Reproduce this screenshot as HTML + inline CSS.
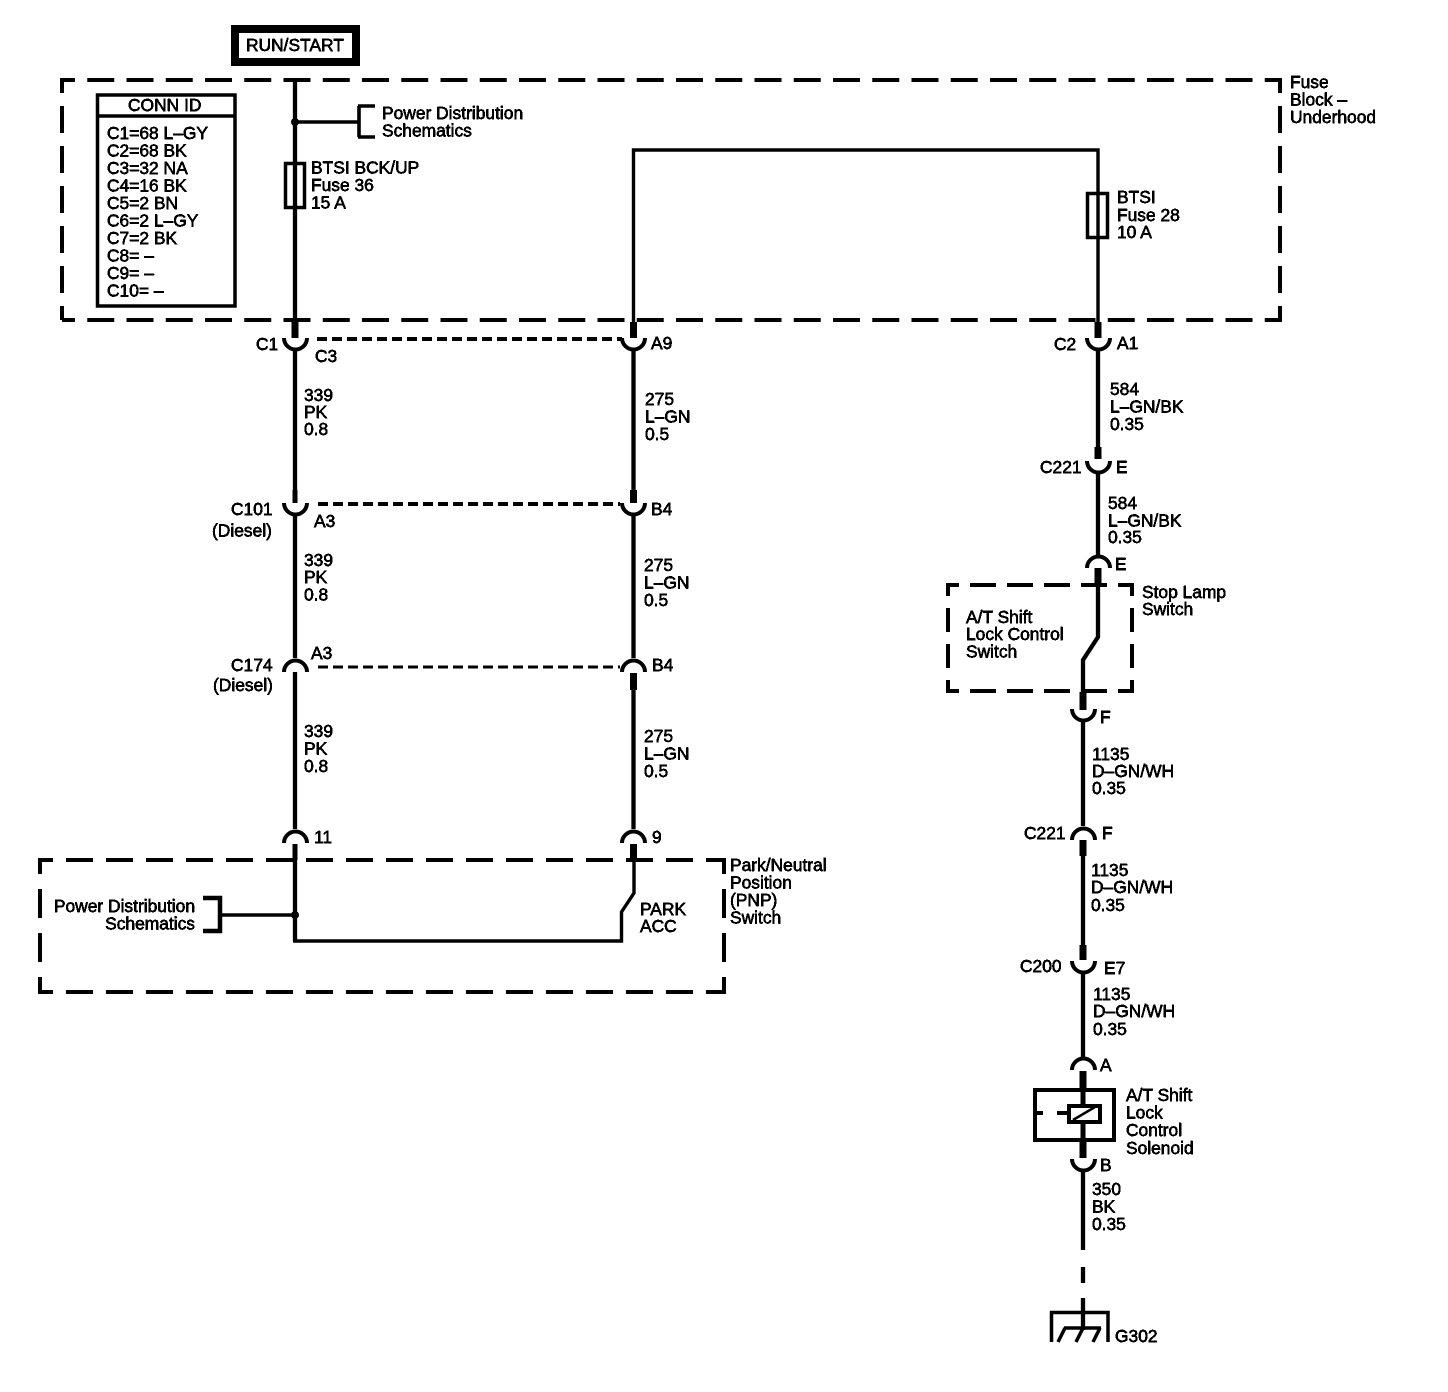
<!DOCTYPE html>
<html>
<head>
<meta charset="utf-8">
<style>
html,body{margin:0;padding:0;background:#fff}
svg{display:block}
text{font-family:"Liberation Sans",sans-serif;font-size:17.4px;fill:#000;stroke:#000;stroke-width:.45}
</style>
</head>
<body>
<svg width="1448" height="1392" viewBox="0 0 1448 1392" xmlns="http://www.w3.org/2000/svg">
<defs>
<filter id="t" x="0" y="0" width="100%" height="100%" filterUnits="userSpaceOnUse" primitiveUnits="userSpaceOnUse">
<feComponentTransfer><feFuncA type="discrete" tableValues="0 1 1 1"/></feComponentTransfer>
</filter>
</defs>
<rect width="1448" height="1392" fill="#fff"/>

<!-- RUN/START -->
<rect x="235" y="29" width="121" height="33" fill="#fff" stroke="#000" stroke-width="8"/>

<!-- Big dashed box -->
<g fill="none" stroke="#000" stroke-width="4">
<path d="M62 80H1280" stroke-dasharray="27 12.25" stroke-dashoffset="14"/>
<path d="M62 320H1280" stroke-dasharray="27 12.25" stroke-dashoffset="14"/>
<path d="M62 78V320" stroke-dasharray="27 13" stroke-dashoffset="12"/>
<path d="M1280 78V322" stroke-dasharray="27 13" stroke-dashoffset="12"/>
<!-- PNP dashed box -->
<path d="M40 860H724" stroke-dasharray="27 13" stroke-dashoffset="14"/>
<path d="M40 992H726" stroke-dasharray="27 13" stroke-dashoffset="14"/>
<path d="M40 858V994" stroke-dasharray="29 15" stroke-dashoffset="13"/>
<path d="M724 858V994" stroke-dasharray="29 15" stroke-dashoffset="13"/>
<!-- Stop lamp dashed box -->
<path d="M948 585H1132" stroke-dasharray="26 11" stroke-dashoffset="15"/>
<path d="M948 691H1132" stroke-dasharray="26 11" stroke-dashoffset="15"/>
<path d="M948 583V693" stroke-dasharray="24 12" stroke-dashoffset="11"/>
<path d="M1132 583V693" stroke-dasharray="24 12" stroke-dashoffset="11"/>
<!-- connector shell dashes -->
<path d="M317 339H622" stroke-dasharray="10 5"/>
<path d="M318 504H620" stroke-dasharray="10 5"/>
<path d="M318 667H620" stroke-width="3" stroke-dasharray="10 5"/>
</g>

<!-- CONN ID -->
<rect x="97.500" y="95" width="137.500" height="211" fill="#fff" stroke="#000" stroke-width="3.5"/>
<path d="M97.500 116H235" stroke="#000" stroke-width="3.5"/>

<!-- Wires -->
<g fill="none" stroke="#000" stroke-width="4.3">
<path d="M295 80V322M295 350V502M295 516V658M295 672V829M295 844V941"/>
<path d="M293 941H621.500V912L634 893V860" stroke-width="3.400"/>
<path d="M295 122H358M359 106V137M358 106H375M358 137H375" stroke-width="3.600"/>
<path d="M220 915H295" stroke-width="3.600"/>
<path d="M203 898H220V931H203" stroke-width="4.500"/>
<path d="M633.500 322V150H1098V322" stroke-width="3.400"/>
<path d="M633.500 350V490M633.500 516V658M633.500 690V829"/>
<path d="M1098 350V447M1098 474V557"/>
<path d="M1098 585V637L1083 660V692"/>
<path d="M1083 722V826M1083 856V945M1083 974V1058M1083 1171V1250M1083 1267V1283M1083 1298V1330"/>
</g>

<!-- thick stubs -->
<g fill="none" stroke="#000" stroke-width="7">
<path d="M295 322V338M633.500 322V338M1098 322V338"/>
<path d="M633.500 490V503M633.500 673V690"/>
<path d="M1098 447V459M1098 568V585"/>
<path d="M1083 692V710M1083 840V856M1083 945V960"/>
<path d="M633.500 844V860"/>
<path d="M1083 1071V1090M1083 1142V1158"/>
</g>
<path d="M295 844V860" stroke="#000" stroke-width="5"/>
<path d="M295 490V503" stroke="#000" stroke-width="5"/>

<!-- Cups (down) -->
<g fill="none" stroke="#000" stroke-width="4">
<path d="M284 338A11.5 11.5 0 0 0 307 338"/>
<path d="M622 338A11.5 11.5 0 0 0 645 338"/>
<path d="M1087 338A11.5 11.5 0 0 0 1110 338"/>
<path d="M284 503A11.5 11.5 0 0 0 307 503"/>
<path d="M622 503A11.5 11.5 0 0 0 645 503"/>
<path d="M1087 461A11.5 11.5 0 0 0 1110 461"/>
<path d="M1072 709A11.5 11.5 0 0 0 1095 709"/>
<path d="M1072 961A11.5 11.5 0 0 0 1095 961"/>
<path d="M1072 1159A11.5 11.5 0 0 0 1095 1159"/>
<!-- Arches (up) -->
<path d="M284 672A11.5 11.5 0 0 1 307 672"/>
<path d="M622 672A11.5 11.5 0 0 1 645 672"/>
<path d="M284 843A11.5 11.5 0 0 1 307 843"/>
<path d="M622 843A11.5 11.5 0 0 1 645 843"/>
<path d="M1087 568A11.5 11.5 0 0 1 1110 568"/>
<path d="M1072 840A11.5 11.5 0 0 1 1095 840"/>
<path d="M1072 1070A11.5 11.5 0 0 1 1095 1070"/>
</g>

<!-- Junction dots -->
<circle cx="295" cy="122" r="4"/>
<circle cx="295" cy="915" r="4"/>

<!-- Fuses -->
<rect x="285.500" y="163.500" width="19" height="44" fill="none" stroke="#000" stroke-width="3.5"/>
<rect x="1087.500" y="193.500" width="20" height="44" fill="none" stroke="#000" stroke-width="3.5"/>

<!-- Solenoid -->
<rect x="1035" y="1090" width="79" height="50" fill="#fff" stroke="#000" stroke-width="4"/>
<path d="M1083 1090V1104M1083 1123V1142" stroke="#000" stroke-width="5"/>
<rect x="1069" y="1106" width="31" height="16" fill="#fff" stroke="#000" stroke-width="4"/>
<path d="M1073 1120L1095 1107" stroke="#000" stroke-width="2.500"/>
<path d="M1035 1113H1043M1057 1113H1068" stroke="#000" stroke-width="4"/>

<!-- Ground -->
<g fill="none" stroke="#000" stroke-width="3.5">
<path d="M1051.500 1342V1312.500H1108V1342"/>
<path d="M1064 1328H1101"/>
<path d="M1065 1328L1058 1342M1083 1328L1076 1342M1100 1328L1093 1342"/>
</g>

<g filter="url(#t)">
<text x="246" y="51">RUN/START</text>
<text x="382" y="119">Power Distribution</text>
<text x="382" y="136.500">Schematics</text>
<text x="128" y="111">CONN ID</text>
<text x="107" y="139">C1=68 L–GY</text>
<text x="107" y="156.500">C2=68 BK</text>
<text x="107" y="174">C3=32 NA</text>
<text x="107" y="191.500">C4=16 BK</text>
<text x="107" y="209">C5=2 BN</text>
<text x="107" y="226.500">C6=2 L–GY</text>
<text x="107" y="244">C7=2 BK</text>
<text x="107" y="261.500">C8= –</text>
<text x="107" y="279">C9= –</text>
<text x="107" y="296.500">C10= –</text>
<text x="311" y="173.500">BTSI BCK/UP</text>
<text x="311" y="191">Fuse 36</text>
<text x="311" y="208.500">15 A</text>
<text x="1117" y="203">BTSI</text>
<text x="1117" y="221">Fuse 28</text>
<text x="1117" y="238">10 A</text>
<text x="1290" y="88">Fuse</text>
<text x="1290" y="105.500">Block –</text>
<text x="1290" y="123">Underhood</text>
<text x="256" y="350">C1</text>
<text x="315" y="362">C3</text>
<text x="651" y="349">A9</text>
<text x="1054" y="350">C2</text>
<text x="1117" y="349">A1</text>
<text x="304" y="401">339</text>
<text x="304" y="418">PK</text>
<text x="304" y="435">0.8</text>
<text x="645" y="405">275</text>
<text x="645" y="422.500">L–GN</text>
<text x="645" y="440">0.5</text>
<text x="1110" y="395">584</text>
<text x="1110" y="412.500">L–GN/BK</text>
<text x="1110" y="430">0.35</text>
<text x="1040" y="473">C221</text>
<text x="1116" y="473">E</text>
<text x="1108" y="509">584</text>
<text x="1108" y="526.500">L–GN/BK</text>
<text x="1108" y="543">0.35</text>
<text x="1115" y="570">E</text>
<text x="231" y="515">C101</text>
<text x="212" y="536.500">(Diesel)</text>
<text x="314" y="527">A3</text>
<text x="651" y="515">B4</text>
<text x="304" y="566">339</text>
<text x="304" y="583">PK</text>
<text x="304" y="600.500">0.8</text>
<text x="644" y="571">275</text>
<text x="644" y="588.500">L–GN</text>
<text x="644" y="606">0.5</text>
<text x="231" y="671">C174</text>
<text x="213" y="691">(Diesel)</text>
<text x="311" y="659">A3</text>
<text x="652" y="671">B4</text>
<text x="304" y="737">339</text>
<text x="304" y="754.500">PK</text>
<text x="304" y="772">0.8</text>
<text x="644" y="742">275</text>
<text x="644" y="759.500">L–GN</text>
<text x="644" y="777">0.5</text>
<text x="314" y="843">11</text>
<text x="652" y="843">9</text>
<text x="195" y="912" text-anchor="end">Power Distribution</text>
<text x="195" y="929.500" text-anchor="end">Schematics</text>
<text x="640" y="915">PARK</text>
<text x="640" y="932">ACC</text>
<text x="730" y="871">Park/Neutral</text>
<text x="730" y="888.500">Position</text>
<text x="730" y="906">(PNP)</text>
<text x="730" y="923.500">Switch</text>
<text x="1142" y="598">Stop Lamp</text>
<text x="1142" y="615">Switch</text>
<text x="966" y="623">A/T Shift</text>
<text x="966" y="640">Lock Control</text>
<text x="966" y="657.500">Switch</text>
<text x="1100" y="723">F</text>
<text x="1092" y="760">1135</text>
<text x="1092" y="777">D–GN/WH</text>
<text x="1092" y="794">0.35</text>
<text x="1024" y="839">C221</text>
<text x="1102" y="839">F</text>
<text x="1091" y="876">1135</text>
<text x="1091" y="893">D–GN/WH</text>
<text x="1091" y="911">0.35</text>
<text x="1020" y="972">C200</text>
<text x="1104" y="974">E7</text>
<text x="1093" y="1000">1135</text>
<text x="1093" y="1017">D–GN/WH</text>
<text x="1093" y="1035">0.35</text>
<text x="1100" y="1071">A</text>
<text x="1100" y="1171">B</text>
<text x="1126" y="1101">A/T Shift</text>
<text x="1126" y="1118.500">Lock</text>
<text x="1126" y="1136">Control</text>
<text x="1126" y="1154">Solenoid</text>
<text x="1092" y="1195">350</text>
<text x="1092" y="1212.500">BK</text>
<text x="1092" y="1230">0.35</text>
<text x="1115" y="1342">G302</text>
</g>
</svg>
</body>
</html>
